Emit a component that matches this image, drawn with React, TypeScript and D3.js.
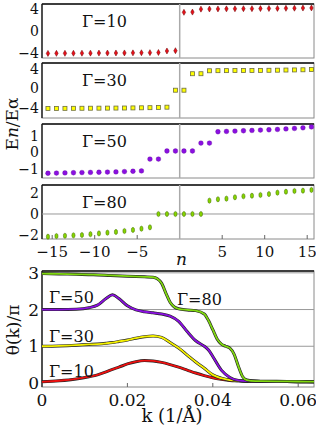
import React from "react";
import * as d3 from "d3";

// level index n (half-integer levels)
const nValues = [
  -15.5, -14.5, -13.5, -12.5, -11.5, -10.5, -9.5, -8.5, -7.5, -6.5, -5.5, -4.5, -3.5, -2.5, -1.5, -0.5,
  0.5, 1.5, 2.5, 3.5, 4.5, 5.5, 6.5, 7.5, 8.5, 9.5, 10.5, 11.5, 12.5, 13.5, 14.5, 15.5,
];
const nTicks = [-15, -10, -5, 5, 10, 15];

// En/Eα for each Γ
const energy10 = [
  -4.15, -4.14, -4.13, -4.12, -4.11, -4.1, -4.09, -4.08, -4.07, -4.06, -4.05, -4.03, -4.01, -3.98, -3.7, -3.65,
  3.46, 3.5, 4.05, 4.07, 4.09, 4.1, 4.12, 4.13, 4.14, 4.15, 4.17, 4.18, 4.2, 4.22, 4.25, 4.27,
];
const energy30 = [
  -4.1, -4.1, -4.09, -4.08, -4.07, -4.06, -4.05, -4.04, -4.03, -4.02, -4.0, -3.98, -3.95, -3.9, -3.85, -0.4,
  -0.4, 2.95, 2.95, 3.55, 3.57, 3.58, 3.6, 3.61, 3.62, 3.63, 3.65, 3.67, 3.7, 3.72, 3.75, 3.8,
];
const energy50 = [
  -1.26, -1.25, -1.24, -1.23, -1.22, -1.21, -1.2, -1.19, -1.18, -1.16, -1.14, -1.12, -0.4, -0.4, 0.09, 0.09,
  0.09, 0.09, 0.57, 0.57, 1.26, 1.28, 1.3, 1.32, 1.34, 1.36, 1.38, 1.4, 1.43, 1.46, 1.5, 1.55,
];
const energy80 = [
  -2.16, -2.1, -2.07, -2.03, -2.0, -1.92, -1.85, -1.78, -1.71, -1.62, -1.52, -1.4, -1.27, 0, 0, 0,
  0, 0, 0, 1.27, 1.4, 1.46, 1.59, 1.69, 1.74, 1.81, 1.9, 2.03, 2.12, 2.19, 2.22, 2.29,
];

// phase shift θ(k)/π
const kTicks = [0, 0.02, 0.04, 0.06];
const thetaTicks = [0, 1, 2, 3];

const k10 = [0, 0.004, 0.008, 0.011, 0.013, 0.015, 0.0165, 0.018, 0.02, 0.022, 0.024, 0.026, 0.028, 0.03, 0.032, 0.034, 0.036, 0.038, 0.04, 0.042, 0.044, 0.046, 0.048, 0.05, 0.055, 0.06, 0.0637];
const theta10 = [0.03, 0.06, 0.11, 0.17, 0.22, 0.3, 0.37, 0.43, 0.52, 0.58, 0.61, 0.6, 0.56, 0.5, 0.43, 0.35, 0.27, 0.2, 0.14, 0.1, 0.07, 0.06, 0.05, 0.045, 0.04, 0.035, 0.03];

const k30 = [0, 0.004, 0.008, 0.011, 0.013, 0.015, 0.0165, 0.018, 0.02, 0.022, 0.024, 0.026, 0.028, 0.03, 0.032, 0.034, 0.036, 0.038, 0.04, 0.042, 0.044, 0.046, 0.048, 0.05, 0.055, 0.06, 0.0637];
const theta30 = [1.0, 1.01, 1.03, 1.05, 1.06, 1.08, 1.1, 1.13, 1.17, 1.22, 1.26, 1.28, 1.24, 1.1, 0.95, 0.76, 0.57, 0.4, 0.22, 0.13, 0.08, 0.06, 0.05, 0.045, 0.04, 0.035, 0.03];

const k50 = [0, 0.004, 0.008, 0.011, 0.013, 0.015, 0.0165, 0.018, 0.02, 0.022, 0.024, 0.026, 0.028, 0.03, 0.032, 0.034, 0.036, 0.038, 0.039, 0.04, 0.042, 0.044, 0.046, 0.048, 0.05, 0.055, 0.06, 0.0637];
const theta50 = [2.0, 2.0, 2.01, 2.05, 2.12, 2.3, 2.4, 2.3, 2.1, 1.99, 1.94, 1.91, 1.88, 1.82, 1.68, 1.4, 1.15, 1.0, 0.9, 0.72, 0.35, 0.15, 0.07, 0.05, 0.045, 0.04, 0.035, 0.03];

const k80 = [0, 0.004, 0.008, 0.012, 0.016, 0.02, 0.024, 0.026, 0.027, 0.028, 0.029, 0.03, 0.031, 0.032, 0.034, 0.036, 0.038, 0.039, 0.04, 0.041, 0.042, 0.043, 0.044, 0.045, 0.046, 0.047, 0.048, 0.05, 0.055, 0.06, 0.0637];
const theta80 = [2.98, 2.97, 2.96, 2.95, 2.93, 2.91, 2.89, 2.88, 2.84, 2.72, 2.45, 2.2, 2.07, 2.02, 1.99, 1.97, 1.88, 1.7, 1.45, 1.2, 1.06, 1.0, 0.95, 0.78, 0.45, 0.17, 0.08, 0.05, 0.045, 0.04, 0.035];

const W = 316;
const H = 430;
const left = 42;
const right = 314;
const serif = '"DejaVu Serif", "Liberation Serif", serif';

const x = d3.scaleLinear().domain([-16.2, 15.8]).range([left, right]);
const xk = d3.scaleLinear().domain([0, 0.0637]).range([left, right]);
const yk = d3.scaleLinear().domain([-0.11, 3.05]).range([387, 271]);

type Marker = "diamond" | "square" | "circle" | "leaf";

const panels = [
  { label: "Γ=10", values: energy10, top: 4, bottom: 58, domain: [-5, 5], ticks: [-4, 0, 4], marker: "diamond" as Marker, fill: "#e8101a", stroke: "#6a0000", zero: false },
  { label: "Γ=30", values: energy30, top: 63, bottom: 118, domain: [-6.05, 5.13], ticks: [-4, 0, 4], marker: "square" as Marker, fill: "#ffff00", stroke: "#6e6e40", zero: false },
  { label: "Γ=50", values: energy50, top: 124, bottom: 178, domain: [-1.55, 1.73], ticks: [-1, 0, 1], marker: "circle" as Marker, fill: "#8a10e0", stroke: "#5a0090", zero: false },
  { label: "Γ=80", values: energy80, top: 185, bottom: 239, domain: [-2.38, 2.76], ticks: [-2, 0, 2], marker: "leaf" as Marker, fill: "#86d400", stroke: "#3f6a00", zero: true },
];

const curves = [
  { k: k10, theta: theta10, color: "#ee1010" },
  { k: k30, theta: theta30, color: "#f4f000" },
  { k: k50, theta: theta50, color: "#8a10e0" },
  { k: k80, theta: theta80, color: "#80d810" },
];

const fmt = (v: number) => (v < 0 ? "\u2212" + Math.abs(v) : String(v));

function Mark({ type, cx, cy, fill, stroke }: { type: Marker; cx: number; cy: number; fill: string; stroke: string }) {
  if (type === "square")
    return <rect x={cx - 2} y={cy - 2} width={4} height={4} fill={fill} stroke={stroke} strokeWidth={0.8} />;
  if (type === "circle") return <circle cx={cx} cy={cy} r={2.4} fill={fill} stroke={stroke} strokeWidth={0.3} />;
  if (type === "diamond")
    return (
      <path d={`M${cx},${cy - 3}L${cx + 1.7},${cy}L${cx},${cy + 3}L${cx - 1.7},${cy}Z`} fill={fill} stroke={stroke} strokeWidth={0.5} />
    );
  return <ellipse cx={cx} cy={cy} rx={1.6} ry={2.6} fill={fill} stroke={stroke} strokeWidth={0.5} />;
}

function Frame({ top, bottom }: { top: number; bottom: number }) {
  return (
    <g>
      <rect x={left} y={top} width={right - left} height={bottom - top} fill="none" stroke="#8a8a8a" strokeWidth={1} />
      <line x1={left} x2={right} y1={top} y2={top} stroke="#111" strokeWidth={1.3} />
      <line x1={left} x2={left} y1={top} y2={bottom} stroke="#111" strokeWidth={1.3} />
    </g>
  );
}

export default function App() {
  const line = d3
    .line<[number, number]>()
    .x((d) => xk(d[0]))
    .y((d) => yk(d[1]))
    .curve(d3.curveMonotoneX);

  return (
    <svg width={W} height={H} style={{ position: "absolute", left: 0, top: 0, background: "#fff", fontFamily: serif }}>
      {panels.map((p, i) => {
        const y = d3.scaleLinear().domain(p.domain).range([p.bottom, p.top]);
        return (
          <g key={i}>
            <Frame top={p.top} bottom={p.bottom} />
            <line x1={x(0)} x2={x(0)} y1={p.top} y2={p.bottom} stroke="#aaa" strokeWidth={1.5} />
            {p.zero && <line x1={left} x2={right} y1={y(0)} y2={y(0)} stroke="#999" strokeWidth={1} />}
            {p.ticks.map((t) => (
              <text key={t} x={39} y={y(t) + 5} fontSize={14} textAnchor="end" fill="#111">
                {fmt(t)}
              </text>
            ))}
            <text x={82} y={p.top + 23} fontSize={16} fill="#111">
              {p.label}
            </text>
            {p.values.map((v, j) => (
              <Mark key={j} type={p.marker} cx={x(nValues[j])} cy={y(v)} fill={p.fill} stroke={p.stroke} />
            ))}
          </g>
        );
      })}
      {nTicks.map((t) => (
        <g key={t}>
          <line x1={x(t)} x2={x(t)} y1={239} y2={235} stroke="#666" />
          <text x={x(t)} y={257} fontSize={15} textAnchor="middle" fill="#111">
            {fmt(t)}
          </text>
        </g>
      ))}
      <text x={176} y={265} fontSize={17} fontStyle="italic" fill="#111">
        n
      </text>
      <text transform="translate(18,124) rotate(-90)" fontSize={17} textAnchor="middle" fill="#111">
        E<tspan fontStyle="italic">n</tspan>/Eα
      </text>

      {/* phase shift panel */}
      <Frame top={271} bottom={387} />
      {thetaTicks.slice(1).map((t) => (
        <line key={t} x1={left} x2={right} y1={yk(t)} y2={yk(t)} stroke="#999" strokeWidth={1} />
      ))}
      {curves.map((c, i) => {
        const pts = c.k.map((k, j) => [k, c.theta[j]] as [number, number]);
        const d = line(pts) || "";
        return (
          <g key={i}>
            <path d={d} fill="none" stroke="#222" strokeWidth={3} />
            <path d={d} fill="none" stroke={c.color} strokeWidth={1.8} />
          </g>
        );
      })}
      {thetaTicks.map((t) => (
        <text key={t} x={39} y={yk(t) + 6} fontSize={17} textAnchor="end" fill="#111">
          {t}
        </text>
      ))}
      {kTicks.map((t) => (
        <g key={t}>
          <line x1={xk(t)} x2={xk(t)} y1={387} y2={383} stroke="#666" />
          <text x={xk(t)} y={406} fontSize={17} textAnchor="middle" fill="#111">
            {t}
          </text>
        </g>
      ))}
      <text x={49} y={303} fontSize={16} fill="#111">Γ=50</text>
      <text x={49} y={342} fontSize={16} fill="#111">Γ=30</text>
      <text x={49} y={377} fontSize={16} fill="#111">Γ=10</text>
      <text x={177} y={305} fontSize={16} fill="#111">Γ=80</text>
      <text x={172} y={422} fontSize={18} textAnchor="middle" fill="#111">
        k (1/Å)
      </text>
      <text transform="translate(19,330) rotate(-90)" fontSize={17} textAnchor="middle" fill="#111">
        θ(k)/π
      </text>
    </svg>
  );
}
